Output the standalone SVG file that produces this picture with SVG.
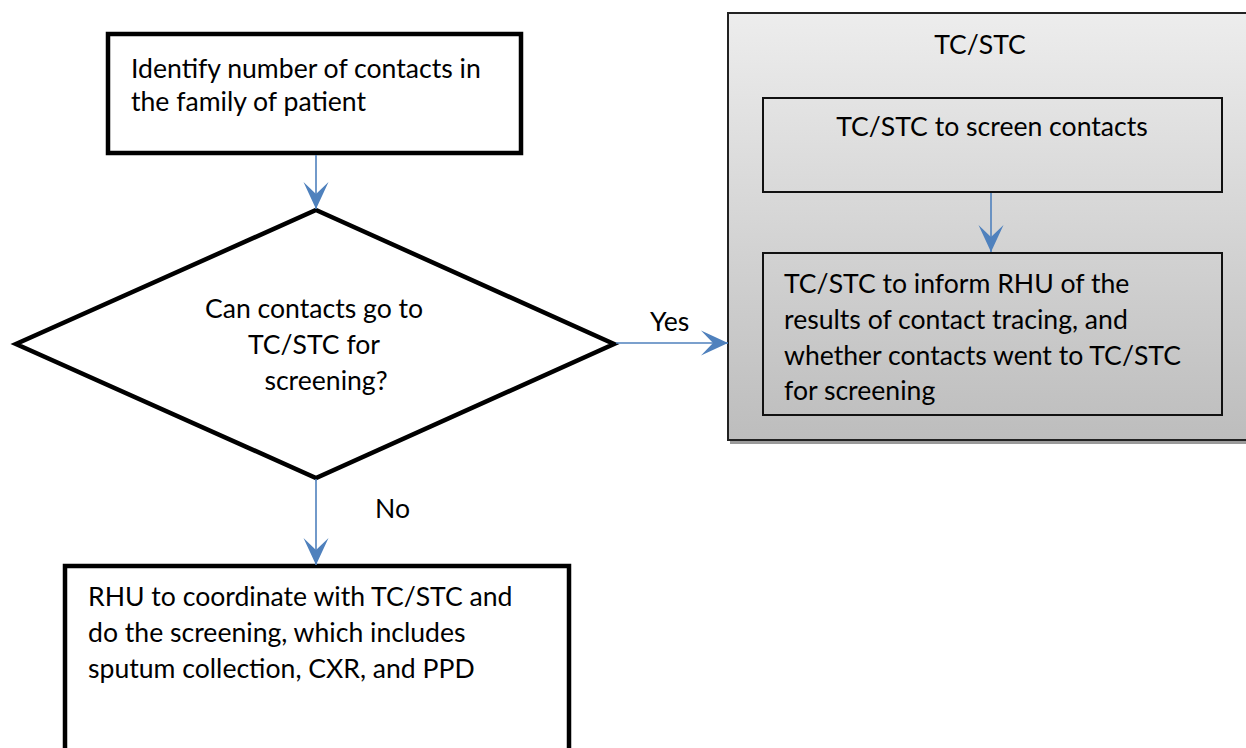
<svg xmlns="http://www.w3.org/2000/svg" width="1246" height="748" viewBox="0 0 1246 748">
  <defs>
    <style>
      .lbl { font-family: Lato, "Liberation Sans", sans-serif; font-size: 26.6px; fill: #000; }
      .mid { text-anchor: middle; }
      .thick { fill: #fff; stroke: #000; stroke-width: 4.5; }
      .thin { fill: none; stroke: #111; stroke-width: 2; }
      .conn { fill: none; stroke: #4f81bd; stroke-width: 1.6; }
    </style>
    <linearGradient id="groupFill" x1="0" y1="0" x2="0" y2="1">
      <stop offset="0" stop-color="#ededed"/>
      <stop offset="1" stop-color="#bdbdbd"/>
    </linearGradient>
    <marker id="head" markerUnits="userSpaceOnUse" markerWidth="30" markerHeight="30" viewBox="-28 -14 30 28" refX="0" refY="0" orient="auto">
      <path d="M0 0 L-27 -12.5 L-15 0 L-27 12.5 Z" fill="#4f81bd"/>
    </marker>
  </defs>

  <!-- TC/STC group box with its shadow -->
  <g id="tcstc-group">
    <rect x="730" y="16" width="530" height="428" fill="#9a9a9a"/>
    <rect x="728" y="13" width="530" height="427" fill="url(#groupFill)" stroke="#222" stroke-width="2"/>
    <text class="lbl mid" x="980" y="54">TC/STC</text>
  </g>

  <g id="screen-contacts">
    <rect class="thin" x="763" y="98" width="459" height="94"/>
    <text class="lbl mid" x="992" y="136">TC/STC to screen contacts</text>
  </g>

  <g id="inform-rhu">
    <rect class="thin" x="763" y="253" width="459" height="162"/>
    <text class="lbl" x="784" y="293">TC/STC to inform RHU of the</text>
    <text class="lbl" x="784" y="329">results of contact tracing, and</text>
    <text class="lbl" x="784" y="365">whether contacts went to TC/STC</text>
    <text class="lbl" x="784" y="400">for screening</text>
  </g>

  <g id="identify">
    <rect class="thick" x="108" y="34" width="413" height="119"/>
    <text class="lbl" x="131" y="78">Identify number of contacts in</text>
    <text class="lbl" x="131" y="111">the family of patient</text>
  </g>

  <g id="decision">
    <polygon class="thick" points="316,210 614,344 316,478 16,344" stroke-linejoin="miter"/>
    <text class="lbl mid" x="314" y="318">Can contacts go to</text>
    <text class="lbl mid" x="314" y="354">TC/STC for</text>
    <text class="lbl mid" x="326" y="390">screening?</text>
  </g>

  <g id="rhu-coordinate">
    <rect class="thick" x="65" y="566" width="504" height="200"/>
    <text class="lbl" x="88" y="606">RHU to coordinate with TC/STC and</text>
    <text class="lbl" x="88" y="642">do the screening, which includes</text>
    <text class="lbl" x="88" y="678">sputum collection, CXR, and PPD</text>
  </g>

  <g id="connectors">
    <line class="conn" x1="316" y1="155" x2="316" y2="209" marker-end="url(#head)"/>
    <line class="conn" x1="616" y1="343" x2="728" y2="343" marker-end="url(#head)"/>
    <line class="conn" x1="316" y1="479" x2="316" y2="565" marker-end="url(#head)"/>
    <line class="conn" x1="991" y1="193" x2="991" y2="252" marker-end="url(#head)"/>
    <text class="lbl" x="650" y="331">Yes</text>
    <text class="lbl" x="375" y="518">No</text>
  </g>
</svg>
